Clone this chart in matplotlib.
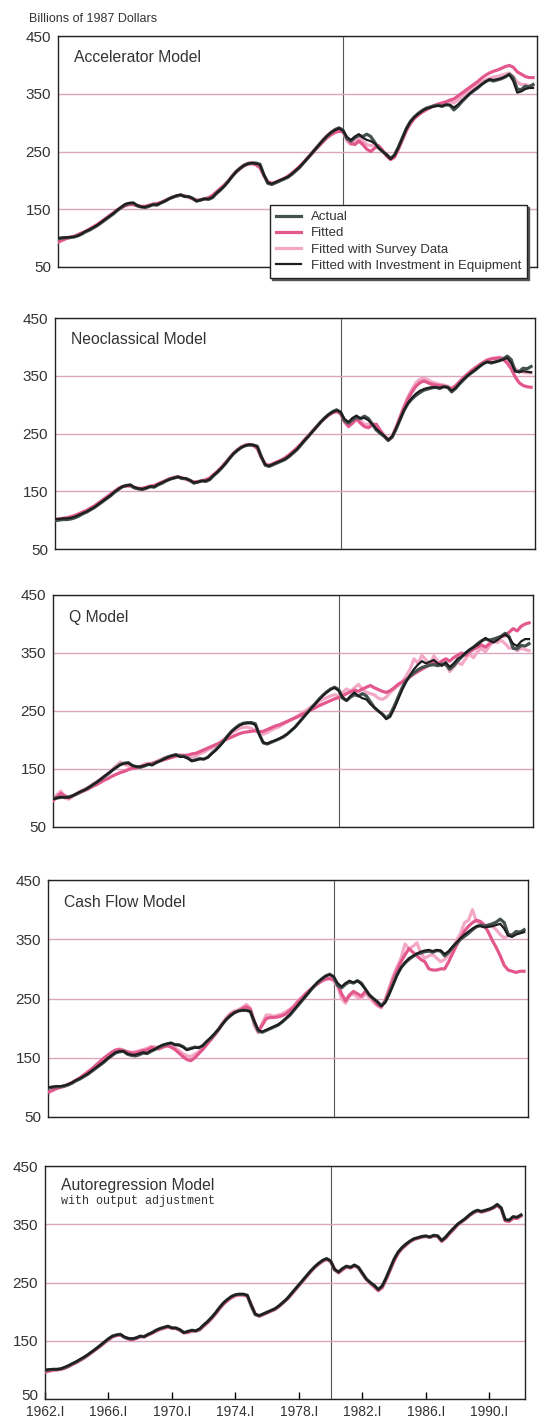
import numpy as np
import matplotlib
matplotlib.use("Agg")
import matplotlib.pyplot as plt
import matplotlib.transforms as mtransforms

plt.rcParams['font.family'] = ['Liberation Sans', 'DejaVu Sans']

# quarterly, 1962.I .. 1992.I (billions of 1987 dollars)
quarters = np.arange(1962, 1992.01, 0.25)

actual = [
    99, 100, 101, 101, 102, 104, 107, 111, 114, 118, 122, 127, 132, 137, 142, 148,
    153, 158, 160, 161, 156, 154, 153, 155, 158, 157, 161, 164, 168, 171, 173, 175,
    172, 172, 169, 164, 166, 168, 167, 170, 177, 183, 190, 198, 207, 215, 221, 226,
    229, 230, 230, 228, 210, 195, 193, 196, 199, 202, 205, 210, 216, 222, 230, 238,
    246, 254, 262, 270, 277, 283, 288, 291, 287, 272, 268, 274, 278, 276, 280, 276,
    266, 256, 250, 245, 238, 244, 258, 274, 290, 302, 310, 316, 321, 325, 327, 329,
    330, 328, 331, 330, 322, 328, 336, 343, 350, 355, 360, 366, 371, 374, 372, 374,
    376, 379, 384, 378, 358, 357, 363, 362, 366]

# Accelerator
acc_fit = [
    93, 96, 99, 101, 103, 106, 109, 112, 116, 120, 124, 129, 134, 139, 144, 149,
    153, 156, 158, 158, 156, 155, 155, 157, 159, 160, 162, 165, 168, 171, 173, 174,
    173, 171, 168, 166, 166, 168, 170, 174, 180, 186, 192, 199, 207, 214, 220, 225,
    228, 229, 227, 222, 208, 198, 195, 197, 200, 203, 207, 212, 218, 224, 231, 238,
    245, 253, 260, 267, 274, 279, 283, 285, 284, 274, 264, 262, 268, 262, 254, 250,
    256, 260, 252, 242, 236, 240, 254, 270, 286, 298, 307, 313, 318, 322, 326, 329,
    332, 334, 336, 339, 341, 346, 351, 356, 361, 366, 371, 377, 382, 386, 389, 391,
    394, 397, 399, 396, 388, 384, 380, 378, 378]
acc_survey = [
    97, 99, 100, 102, 103, 105, 108, 111, 115, 119, 123, 128, 133, 138, 143, 148,
    154, 158, 160, 160, 157, 155, 154, 156, 158, 158, 161, 165, 168, 171, 173, 175,
    173, 171, 168, 165, 166, 168, 168, 171, 178, 184, 191, 199, 208, 216, 222, 227,
    230, 231, 229, 225, 209, 196, 193, 196, 200, 203, 206, 211, 217, 223, 231, 239,
    247, 255, 263, 271, 278, 284, 288, 290, 285, 268, 262, 268, 274, 268, 262, 260,
    262, 258, 250, 244, 238, 243, 256, 272, 288, 300, 309, 315, 320, 324, 327, 330,
    332, 333, 335, 337, 334, 339, 345, 350, 355, 360, 365, 370, 374, 377, 379, 380,
    382, 384, 386, 380, 370, 366, 366, 364, 364]
acc_equip = [
    100, 101, 101, 102, 102, 104, 108, 112, 115, 119, 123, 128, 133, 138, 143, 149,
    154, 159, 161, 161, 157, 154, 154, 156, 158, 158, 161, 164, 168, 171, 174, 175,
    172, 172, 169, 164, 166, 168, 168, 171, 178, 184, 190, 198, 207, 215, 221, 226,
    229, 230, 229, 227, 210, 196, 194, 197, 200, 203, 206, 211, 217, 223, 230, 238,
    246, 254, 262, 270, 277, 283, 287, 290, 286, 275, 270, 276, 280, 274, 270, 268,
    264, 256, 250, 244, 237, 243, 257, 273, 289, 301, 309, 315, 320, 324, 326, 328,
    329, 329, 331, 331, 326, 331, 338, 344, 350, 356, 361, 366, 371, 375, 374, 375,
    377, 380, 383, 372, 352, 354, 358, 360, 360]

# Neoclassical
neo_fit = [
    101, 102, 103, 104, 106, 108, 111, 114, 117, 121, 125, 130, 135, 140, 145, 150,
    155, 158, 159, 159, 156, 155, 155, 157, 159, 160, 163, 166, 169, 172, 174, 175,
    173, 171, 168, 166, 166, 168, 170, 173, 179, 185, 192, 200, 208, 216, 222, 227,
    230, 231, 229, 224, 208, 197, 195, 198, 201, 204, 208, 213, 219, 225, 232, 240,
    247, 255, 262, 270, 276, 282, 286, 288, 284, 270, 262, 268, 275, 268, 262, 260,
    265, 266, 255, 245, 238, 244, 260, 278, 295, 310, 322, 332, 338, 341, 338, 335,
    334, 333, 332, 330, 328, 333, 340, 347, 353, 359, 364, 369, 373, 377, 379, 380,
    381, 378, 372, 362, 348, 338, 333, 331, 330]
neo_survey = [
    100, 102, 103, 104, 105, 107, 110, 113, 116, 120, 124, 129, 134, 139, 144, 149,
    154, 158, 160, 160, 157, 155, 154, 156, 158, 159, 162, 165, 168, 171, 173, 175,
    173, 172, 169, 166, 167, 168, 169, 172, 178, 184, 191, 199, 207, 215, 221, 226,
    230, 231, 230, 226, 210, 197, 194, 197, 200, 203, 207, 212, 218, 224, 231, 239,
    247, 255, 262, 270, 277, 282, 286, 289, 286, 273, 266, 272, 278, 272, 266, 266,
    268, 264, 256, 247, 240, 246, 262, 280, 298, 314, 327, 338, 344, 346, 343, 339,
    337, 335, 334, 332, 327, 331, 339, 346, 353, 359, 364, 369, 374, 378, 380, 381,
    382, 381, 379, 372, 362, 358, 356, 355, 355]
neo_equip = [
    102, 102, 103, 103, 104, 106, 109, 112, 115, 119, 123, 128, 133, 138, 143, 149,
    154, 158, 160, 161, 157, 155, 154, 156, 158, 158, 162, 165, 168, 171, 173, 175,
    173, 172, 169, 165, 166, 168, 168, 171, 178, 184, 191, 198, 207, 215, 221, 226,
    229, 231, 230, 227, 210, 196, 194, 197, 200, 203, 206, 211, 217, 223, 231, 239,
    246, 254, 262, 270, 277, 283, 287, 290, 287, 275, 270, 277, 281, 276, 277, 273,
    266, 258, 252, 246, 239, 245, 259, 275, 291, 303, 312, 319, 324, 327, 329, 330,
    330, 329, 331, 330, 324, 329, 337, 344, 350, 356, 361, 366, 371, 374, 373, 374,
    376, 378, 381, 372, 358, 356, 358, 357, 356]

# Q
q_fit = [
    95, 102, 108, 104, 100, 104, 107, 110, 113, 116, 120, 123, 127, 131, 134, 138,
    141, 144, 146, 149, 151, 152, 154, 156, 158, 160, 162, 164, 166, 168, 170, 172,
    174, 173, 174, 176, 177, 180, 183, 186, 189, 192, 195, 199, 202, 205, 208, 211,
    213, 214, 215, 216, 214, 215, 218, 221, 224, 226, 229, 232, 235, 238, 241, 245,
    248, 252, 255, 259, 262, 265, 268, 271, 273, 276, 280, 283, 286, 284, 288, 291,
    294, 290, 287, 284, 282, 285, 290, 296, 300, 304, 309, 314, 318, 322, 326, 330,
    334, 330, 336, 340, 336, 342, 346, 350, 346, 352, 356, 360, 364, 360, 366, 372,
    376, 378, 380, 386, 392, 388, 396, 400, 402]
q_survey = [
    97, 106, 112, 100, 98, 103, 108, 112, 115, 119, 124, 128, 133, 138, 143, 150,
    156, 162, 158, 155, 154, 152, 155, 158, 160, 158, 163, 166, 169, 171, 172, 174,
    173, 174, 172, 170, 172, 176, 179, 183, 186, 190, 195, 201, 206, 212, 216, 220,
    222, 222, 220, 216, 212, 210, 213, 217, 220, 223, 227, 231, 235, 239, 243, 248,
    252, 257, 262, 266, 270, 273, 276, 278, 276, 282, 288, 284, 290, 296, 288, 282,
    280, 278, 272, 270, 274, 282, 288, 294, 300, 310, 322, 340, 332, 346, 338, 330,
    345, 336, 328, 334, 318, 326, 334, 330, 340, 348, 342, 352, 358, 352, 362, 370,
    368, 372, 366, 358, 360, 354, 358, 356, 354]
q_equip = [
    98, 100, 102, 101, 101, 104, 108, 111, 114, 118, 123, 127, 132, 138, 143, 148,
    153, 157, 160, 160, 156, 154, 154, 156, 158, 157, 161, 164, 167, 170, 173, 174,
    171, 171, 168, 164, 165, 167, 167, 170, 176, 182, 189, 197, 206, 214, 220, 225,
    228, 229, 229, 226, 209, 196, 194, 197, 199, 202, 206, 210, 216, 222, 230, 238,
    246, 254, 261, 269, 276, 282, 287, 290, 285, 274, 268, 276, 282, 276, 272, 270,
    262, 256, 250, 244, 236, 240, 254, 270, 286, 300, 312, 322, 330, 336, 332, 335,
    338, 332, 328, 334, 326, 332, 340, 344, 350, 356, 360, 364, 370, 376, 372, 368,
    372, 378, 382, 376, 366, 362, 370, 374, 374]

# Cash flow
cf_fit = [
    92, 95, 98, 100, 102, 105, 108, 112, 116, 121, 126, 131, 137, 143, 149, 154,
    159, 163, 164, 162, 160, 158, 158, 160, 162, 163, 167, 166, 165, 168, 170, 168,
    164, 158, 152, 147, 145, 150, 157, 164, 172, 180, 188, 197, 207, 216, 223, 227,
    229, 233, 236, 232, 212, 195, 205, 216, 218, 218, 219, 221, 224, 230, 236, 244,
    251, 258, 264, 270, 275, 280, 283, 284, 282, 274, 258, 246, 256, 262, 258, 254,
    262, 256, 248, 240, 236, 246, 264, 282, 298, 312, 324, 334, 328, 322, 316, 312,
    300, 298, 298, 300, 300, 312, 326, 340, 352, 364, 372, 378, 382, 380, 374, 362,
    348, 336, 322, 306, 298, 296, 294, 296, 296]
cf_survey = [
    90, 94, 97, 100, 101, 104, 107, 111, 115, 120, 125, 130, 136, 142, 148, 153,
    157, 162, 165, 163, 160, 159, 160, 162, 164, 166, 169, 168, 168, 170, 172, 170,
    167, 162, 157, 153, 152, 156, 160, 166, 174, 182, 190, 199, 209, 218, 225, 229,
    231, 235, 240, 234, 204, 192, 208, 222, 222, 220, 222, 224, 228, 232, 238, 246,
    252, 259, 265, 270, 275, 279, 282, 283, 280, 270, 250, 242, 254, 258, 252, 250,
    258, 252, 244, 238, 234, 248, 268, 288, 304, 318, 342, 334, 338, 344, 326, 318,
    322, 324, 318, 312, 316, 324, 334, 348, 360, 378, 382, 400, 380, 376, 374, 372,
    372, 366, 358, 352, 356, 358, 360, 362, 364]
cf_equip = [
    100, 101, 102, 102, 103, 105, 108, 112, 115, 119, 123, 128, 133, 138, 143, 149,
    154, 159, 161, 161, 157, 155, 155, 157, 159, 158, 162, 165, 169, 172, 174, 175,
    172, 171, 168, 163, 165, 167, 167, 171, 178, 184, 191, 198, 207, 215, 221, 226,
    229, 230, 230, 228, 212, 197, 194, 197, 200, 203, 206, 211, 217, 223, 231, 239,
    247, 255, 263, 271, 278, 283, 288, 290, 287, 276, 270, 276, 280, 277, 280, 274,
    266, 256, 250, 244, 237, 243, 257, 273, 289, 302, 311, 318, 322, 326, 329, 331,
    332, 330, 332, 331, 325, 330, 338, 345, 352, 358, 363, 368, 372, 372, 370, 371,
    372, 374, 376, 368, 356, 354, 358, 360, 362]

# Autoregression
ar_fit = [
    96, 98, 100, 100, 101, 103, 106, 110, 113, 117, 121, 126, 131, 136, 141, 147,
    152, 157, 159, 160, 156, 153, 152, 154, 157, 157, 160, 163, 167, 170, 172, 174,
    172, 171, 168, 164, 164, 167, 167, 169, 175, 181, 188, 196, 205, 213, 219, 224,
    228, 229, 229, 227, 212, 196, 192, 195, 198, 201, 204, 209, 215, 221, 229, 237,
    245, 253, 261, 269, 276, 282, 287, 290, 287, 273, 267, 272, 277, 275, 279, 276,
    266, 256, 249, 243, 236, 241, 255, 271, 287, 300, 308, 314, 320, 324, 326, 328,
    329, 328, 330, 329, 321, 326, 334, 341, 349, 354, 359, 365, 370, 373, 371, 373,
    375, 378, 382, 377, 356, 355, 360, 360, 364]
ar_survey = [
    97, 98, 99, 100, 101, 103, 106, 109, 113, 117, 121, 126, 131, 136, 141, 146,
    151, 156, 159, 160, 156, 154, 153, 154, 157, 156, 160, 163, 166, 169, 171, 173,
    171, 171, 168, 163, 165, 166, 166, 169, 176, 182, 189, 197, 205, 213, 219, 224,
    227, 228, 228, 226, 209, 195, 193, 195, 198, 201, 204, 209, 215, 221, 228, 236,
    244, 252, 260, 268, 276, 281, 286, 289, 285, 271, 266, 272, 276, 275, 278, 275,
    264, 255, 248, 242, 236, 242, 256, 272, 288, 300, 309, 315, 320, 324, 326, 328,
    329, 327, 330, 329, 320, 327, 335, 342, 349, 354, 359, 365, 369, 373, 371, 372,
    375, 378, 383, 376, 357, 355, 361, 360, 365]
ar_equip = [
    100, 101, 101, 101, 102, 105, 108, 111, 115, 119, 123, 127, 132, 137, 143, 148,
    154, 158, 160, 161, 157, 154, 154, 155, 158, 157, 161, 164, 168, 171, 173, 175,
    172, 172, 169, 164, 166, 168, 167, 171, 177, 183, 190, 198, 207, 215, 221, 226,
    229, 230, 230, 228, 211, 196, 193, 196, 199, 202, 205, 210, 216, 222, 230, 238,
    246, 254, 262, 270, 277, 283, 288, 291, 287, 273, 268, 274, 278, 276, 280, 276,
    266, 256, 250, 245, 238, 244, 258, 274, 290, 302, 310, 316, 321, 325, 327, 329,
    330, 328, 331, 330, 322, 328, 336, 343, 350, 355, 360, 366, 371, 374, 372, 374,
    376, 379, 384, 378, 358, 357, 363, 362, 366]

titles = ["Accelerator Model", "Neoclassical Model", "Q Model",
          "Cash Flow Model", "Autoregression Model"]
fits = [acc_fit, neo_fit, q_fit, cf_fit, ar_fit]
surveys = [acc_survey, neo_survey, q_survey, cf_survey, ar_survey]
equips = [acc_equip, neo_equip, q_equip, cf_equip, ar_equip]

tick_years = [1962, 1966, 1970, 1974, 1978, 1982, 1986, 1990]
tick_labels = [str(y) + ".I" for y in tick_years]

C_ACTUAL = '#44524f'
C_FIT = '#e3588c'
C_SURVEY = '#f3a9c6'
C_EQUIP = '#1e1e1e'
C_GRID = '#d9a6be'
C_TEXT = '#333333'

W, H = 539, 1424
# left, right, top, bottom in pixels (the scan is slightly skewed)
boxes = [(58, 537, 36, 267), (55, 535, 318, 549), (53, 533, 595, 827),
         (48, 528, 880, 1117), (45, 525, 1166, 1399)]

fig = plt.figure(figsize=(W / 100, H / 100), dpi=100)
fig.text(29 / W, 1 - 19 / H, "Billions of 1987 Dollars", fontsize=9,
         color=C_TEXT, va='center', ha='left')

for i, (l, r, t, b) in enumerate(boxes):
    ax = fig.add_axes([l / W, 1 - b / H, (r - l) / W, (b - t) / H])
    ax.plot(quarters, surveys[i], color=C_SURVEY, lw=2.3, label='Fitted with Survey Data', zorder=2)
    ax.plot(quarters, fits[i], color=C_FIT, lw=2.3, label='Fitted', zorder=3)
    ax.plot(quarters, actual, color=C_ACTUAL, lw=2.3, label='Actual', zorder=4)
    ax.plot(quarters, equips[i], color=C_EQUIP, lw=1.6, label='Fitted with Investment in Equipment', zorder=5)
    ax.axvline(1980, color='#555555', lw=0.8, zorder=1)
    ax.set_xlim(1962, 1992.25)
    ax.set_ylim(50, 450)
    ax.set_yticks([50, 150, 250, 350, 450])
    ax.grid(axis='y', color=C_GRID, lw=1.0, zorder=0)
    ax.tick_params(axis='y', length=0, pad=5, labelsize=11, labelcolor=C_TEXT)
    for s in ax.spines.values():
        s.set_linewidth(1.0)
        s.set_color('#222222')
    if i == 4:
        ax.set_xticks(tick_years)
        ax.set_xticklabels(tick_labels)
        ax.tick_params(axis='x', direction='in', length=5, width=1, labelsize=10,
                       pad=4, labelcolor=C_TEXT)
        # lift the bottom "50" a little so it clears "1962.I"
        lift = mtransforms.ScaledTranslation(0, 4 / 100, fig.dpi_scale_trans)
        lbl = ax.get_yticklabels()[0]
        lbl.set_transform(lbl.get_transform() + lift)
        ax.text(0.033, 0.915, titles[i], transform=ax.transAxes, fontsize=11.3,
                color=C_TEXT, ha='left', va='center')
        ax.text(0.033, 0.848, "with output adjustment", transform=ax.transAxes,
                fontsize=8.5, family=['Liberation Mono', 'DejaVu Sans Mono'],
                color=C_TEXT, ha='left', va='center')
    else:
        ax.set_xticks([])
        ax.text(0.033, 0.905, titles[i], transform=ax.transAxes, fontsize=11.3,
                color=C_TEXT, ha='left', va='center')
    if i == 0:
        h, lab = ax.get_legend_handles_labels()
        order = [2, 1, 0, 3]
        leg = ax.legend([h[k] for k in order], [lab[k] for k in order],
                        loc='upper right', bbox_to_anchor=(0.979, 0.268),
                        fontsize=9.5, frameon=True, fancybox=False,
                        edgecolor='#222222', framealpha=1, handlelength=1.9,
                        handletextpad=0.7, labelspacing=0.3, borderpad=0.45,
                        borderaxespad=0,
                        shadow={'ox': 1.5, 'oy': -1.5, 'color': '#555555', 'alpha': 1})
        leg.get_frame().set_linewidth(1.0)
        for txt in leg.get_texts():
            txt.set_color(C_TEXT)
        leg.set_zorder(10)

fig.savefig("out.png", dpi=100)
